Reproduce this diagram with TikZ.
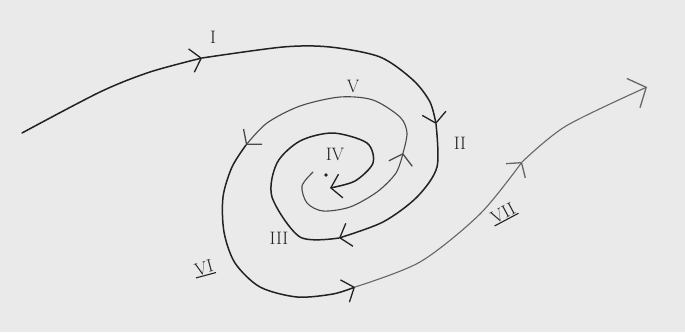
\documentclass[tikz,border=0pt]{standalone}
\usepackage{xcolor}
\usepackage{tikz}
\usetikzlibrary{arrows.meta}
\definecolor{paper}{HTML}{EAEAEA}
\definecolor{ink}{HTML}{222222}
\definecolor{pencil}{HTML}{4A4A4A}
\definecolor{faint}{HTML}{666666}
\tikzset{
  inward/.style={draw=ink, line width=1.5pt, line cap=round},
  outward/.style={draw=pencil, line width=1.1pt, line cap=round},
  barb/.style={-{Straight Barb[length=10pt,width=24pt,line width=1.3pt]}},
  bigbarb/.style={-{Straight Barb[length=14pt,width=32pt,line width=1.3pt]}},
  num/.style={font=\fontsize{18}{18}\selectfont, text=ink, inner sep=1pt},
  bar/.style={draw=ink, line width=1.1pt}
}

\begin{document}
\begin{tikzpicture}[x=1pt, y=-1pt]
 \fill[paper] (0,0) rectangle (685,332);
 \useasboundingbox (0,0) rectangle (685,332);

 \coordinate (aStart) at (22,133);
 \coordinate (aI) at (202,58);
 \coordinate (aII) at (436,124);
 \coordinate (aIII) at (339,238);
 \coordinate (aEnd) at (330,188);

 \coordinate (bStart) at (313,172);
 \coordinate (bIV) at (403,153);
 \coordinate (bV) at (246,145);
 \coordinate (bVI) at (355,287);
 \coordinate (bVII) at (522,162);
 \coordinate (bEnd) at (647,87);

 % spiral running in: I, II, III, IV
 \draw[inward, barb] plot[smooth] coordinates {(aStart) (100,92) (150,72) (aI)};
 \draw[inward, barb] plot[smooth] coordinates {(aI) (283,47) (330,47) (380,57) (413,80) (430,102) (aII)};
 \draw[inward, barb] plot[smooth] coordinates {(aII) (437,167) (417,197) (383,222) (aIII)};
 \draw[inward, barb] plot[smooth] coordinates {(aIII) (300,237) (272,197) (277,163) (300,141) (333,133) (367,143) (373,163) (355,181) (aEnd)};

 % spiral running out: IV, V, VI, VII
 \draw[outward, barb] plot[smooth] coordinates {(bStart) (302,186) (307,203) (323,211) (350,207) (377,192) (396,173) (bIV)};
 \draw[outward, barb] plot[smooth] coordinates {(bIV) (407,133) (400,117) (373,100) (340,97) (300,106) (267,123) (bV)};
 \draw[inward, barb] plot[smooth] coordinates {(bV) (232,167) (223,197) (224,232) (235,263) (260,287) (297,297) (333,294) (bVI)};
 \draw[outward, draw=faint, barb] plot[smooth] coordinates {(bVI) (420,262) (480,214) (bVII)};
 \draw[outward, draw=faint, bigbarb] plot[smooth] coordinates {(bVII) (566,126) (bEnd)};

 \node[circle, fill=ink, inner sep=1.4pt] (ctr) at (326,175) {};

 \node[num] (nI) at (213,37) {I};
 \node[num] (nII) at (460,143) {II};
 \node[num] (nIII) at (279,238) {III};
 \node[num] (nIV) at (335,154) {IV};
 \node[num] (nV) at (353,86) {V};
 \node[num, rotate=15] (nVI) at (204,268) {VI};
 \node[num, rotate=28] (nVII) at (503,213) {VII};
 \draw[bar] (nVI.south west) -- (nVI.south east);
 \draw[bar] (nVII.south west) -- (nVII.south east);
\end{tikzpicture}
\end{document}
